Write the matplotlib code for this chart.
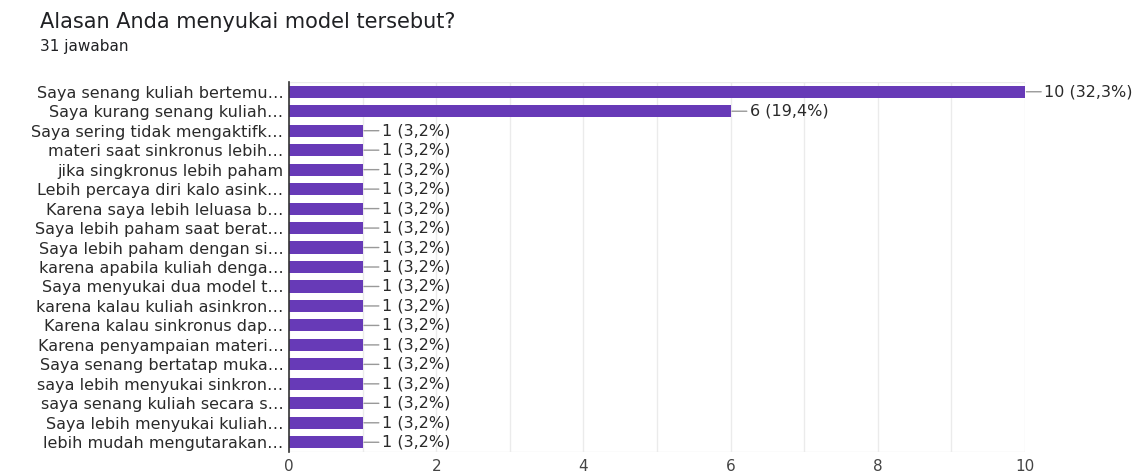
import matplotlib.pyplot as plt

labels = [
    "Saya senang kuliah bertemu\u2026",
    "Saya kurang senang kuliah\u2026",
    "Saya sering tidak mengaktifk\u2026",
    "materi saat sinkronus lebih\u2026",
    "jika singkronus lebih paham",
    "Lebih percaya diri kalo asink\u2026",
    "Karena saya lebih leluasa b\u2026",
    "Saya lebih paham saat berat\u2026",
    "Saya lebih paham dengan si\u2026",
    "karena apabila kuliah denga\u2026",
    "Saya menyukai dua model t\u2026",
    "karena kalau kuliah asinkron\u2026",
    "Karena kalau sinkronus dap\u2026",
    "Karena penyampaian materi\u2026",
    "Saya senang bertatap muka\u2026",
    "saya lebih menyukai sinkron\u2026",
    "saya senang kuliah secara s\u2026",
    "Saya lebih menyukai kuliah\u2026",
    "lebih mudah mengutarakan\u2026",
]
counts = [10, 6, 1, 1, 1, 1, 1, 1, 1, 1, 1, 1, 1, 1, 1, 1, 1, 1, 1]
pct = ["32,3%", "19,4%"] + ["3,2%"] * 17
total = 31

font = "DejaVu Sans"

fig = plt.figure(figsize=(11.41, 4.73), dpi=100)
ax = fig.add_axes([0.2533, 0.0444, 0.8983 - 0.2533, 0.8266 - 0.0444])

y = list(range(len(labels)))
ax.barh(y, counts, height=0.62, color="#673ab7", zorder=3)
ax.set_ylim(len(labels) - 0.5, -0.5)
ax.set_xlim(0, 10)
ax.set_yticks(y)
ax.set_yticklabels(labels, fontsize=11.5, family=font, color="#2a2a2a")
ax.set_xticks(range(0, 11, 2))
ax.set_xticklabels([str(v) for v in range(0, 11, 2)], fontsize=11,
                   family=font, color="#444444")
ax.set_xticks(range(0, 11), minor=True)
ax.tick_params(axis="y", length=0, pad=4)
ax.tick_params(axis="x", which="both", length=0, pad=5)
ax.grid(axis="x", which="both", color="#ebebeb", linewidth=1, zorder=0)

for s in ["top", "right", "bottom"]:
    ax.spines[s].set_visible(False)
ax.spines["left"].set_color("#333333")
ax.spines["left"].set_linewidth(1.2)
ax.spines["left"].set_zorder(4)
ax.axhline(-0.5, color="#ebebeb", linewidth=1, zorder=0)
ax.axhline(len(labels) - 0.5, color="#ebebeb", linewidth=1, zorder=0)

for i, (c, p) in enumerate(zip(counts, pct)):
    ax.annotate(f"{c} ({p})", xy=(c, i), xytext=(19, 0), textcoords="offset pixels",
                va="center", ha="left", fontsize=11.5, family=font,
                color="#2a2a2a", annotation_clip=False,
                arrowprops=dict(arrowstyle="-", color="#999999", lw=1,
                                shrinkA=0, shrinkB=1))

fig.text(40 / 1141, 1 - 22 / 473, "Alasan Anda menyukai model tersebut?",
         fontsize=15, family=font, color="#202124", va="center", ha="left")
fig.text(40 / 1141, 1 - 47 / 473, f"{total} jawaban",
         fontsize=11, family=font, color="#202124", va="center", ha="left")

fig.savefig("out.png", dpi=100)
